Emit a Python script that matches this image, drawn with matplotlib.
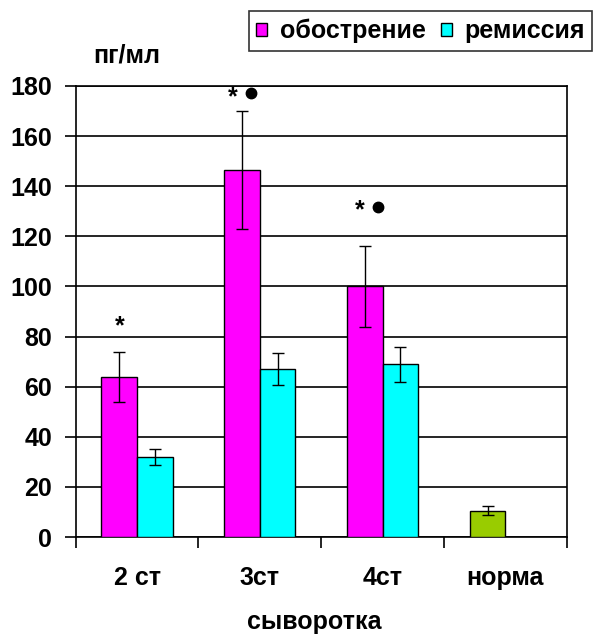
import matplotlib
matplotlib.use('Agg')
import matplotlib.pyplot as plt
import matplotlib.patches as mpatches
import numpy as np

plt.rcParams['font.family'] = ['Liberation Sans', 'DejaVu Sans']
plt.rcParams['font.weight'] = 'bold'

categories = ['2 ст', '3ст', '4ст', 'норма']
exacerbation = [64, 146.5, 100]
exacerbation_err = [10, 23.5, 16]
remission = [32, 67, 69]
remission_err = [3.1, 6.5, 7]
norm_value = [10.4]
norm_err = [1.8]
mark_y = [85.4, 177, 131.8]
star_dx = [0, -0.073, -0.045]
dot_dx = [None, 0.073, 0.105]

MAGENTA = '#FF00FF'
CYAN = '#00FFFF'
GREEN = '#99CC00'
FS = 18

fig = plt.figure(figsize=(5.96, 6.35), dpi=100)
ax = fig.add_axes([0.127, 0.1543, 0.824, 0.7103])

w = 0.29
x = np.arange(3) + 0.5
err_kw = dict(ecolor='black', elinewidth=1, capsize=4, capthick=1)
ax.bar(x - w / 2, exacerbation, w, yerr=exacerbation_err, color=MAGENTA,
       edgecolor='black', linewidth=1, error_kw=err_kw, zorder=3)
ax.bar(x + w / 2, remission, w, yerr=remission_err, color=CYAN,
       edgecolor='black', linewidth=1, error_kw=err_kw, zorder=3)
ax.bar([3.5 - w / 2], norm_value, w, yerr=norm_err, color=GREEN,
       edgecolor='black', linewidth=1, error_kw=err_kw, zorder=3)

# significance marks above the exacerbation bars
for i in range(3):
    cx = x[i] - w / 2
    ax.text(cx + star_dx[i], mark_y[i] - 1.5, '*', ha='center', va='center',
            fontsize=FS, fontweight='bold')
    if dot_dx[i] is not None:
        ax.plot(cx + dot_dx[i], mark_y[i], 'o', color='black', markersize=7.5)

ax.set_xlim(0, 4)
ax.set_ylim(0, 180)
ax.set_yticks(np.arange(0, 181, 20))
ax.yaxis.grid(True, color='black', linewidth=1.2, zorder=0)
ax.set_xticks(x.tolist() + [3.5])
ax.set_xticklabels(categories)
ax.set_xticks(np.arange(0, 5), minor=True)
ax.tick_params(axis='x', which='major', length=0, pad=21, labelsize=FS)
ax.tick_params(axis='x', which='minor', length=8, width=1.2)
ax.tick_params(axis='y', length=8, width=1.2, pad=9, labelsize=FS)
for lab in ax.get_xticklabels() + ax.get_yticklabels():
    lab.set_fontweight('bold')
for s in ax.spines.values():
    s.set_linewidth(1.2)

fig.text(0.528, 0.02, 'сыворотка', fontsize=FS, fontweight='bold',
         ha='center', va='center')
fig.text(0.213, 0.913, 'пг/мл', fontsize=FS, fontweight='bold',
         ha='center', va='center')

handles = [mpatches.Patch(facecolor=MAGENTA, edgecolor='black', label='обострение'),
           mpatches.Patch(facecolor=CYAN, edgecolor='black', label='ремиссия')]
leg = fig.legend(handles=handles, loc='upper right', bbox_to_anchor=(0.994, 0.982),
                 ncol=2, frameon=True, fancybox=False, edgecolor='black',
                 handlelength=0.45, handleheight=0.45,
                 handletextpad=0.5, columnspacing=0.6, borderpad=0.3,
                 borderaxespad=0, prop={'weight': 'bold', 'size': FS})
leg.get_frame().set_linewidth(1.2)

fig.savefig('out.png', dpi=100)
